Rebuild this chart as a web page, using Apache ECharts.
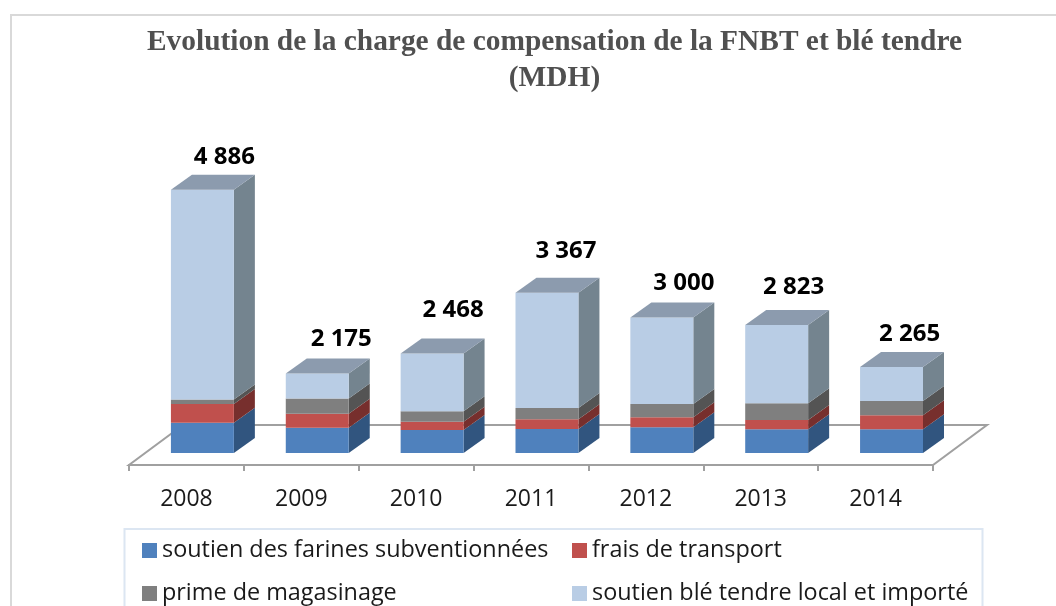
<!DOCTYPE html>
<html><head><meta charset="utf-8">
<style>html,body{margin:0;padding:0;background:#fff}#c{width:1056px;height:606px}</style>
<script src="https://cdn.jsdelivr.net/npm/echarts@6/dist/echarts.min.js"></script>
</head><body><div id="c"></div>
<script>
const categories = ['2008','2009','2010','2011','2012','2013','2014'];
const farines   = [1448,1374,1340,1355,1380,1350,1350];
const transport = [276,207,123,143,148,137,207];
const magasinage= [64,222,154,167,196,247,211];
const bleTendre = [3098,372,851,1702,1276,1157,502];
const totals    = ['4 886','2 175','2 468','3 367','3 000','2 823','2 265'];
const seriesNames = ['soutien des farines subventionnées','frais de transport','prime de magasinage','soutien blé tendre local et importé'];

const stackValues = [farines,transport,magasinage,bleTendre];
const FRONT = ['#4f81bd','#c0504d','#7f7f7f','#b9cde5'];
const SIDE  = ['#31557f','#772f2d','#545454','#74848f'];
const TOP   = '#8c9bae';
const DEPTH_X = 21, DEPTH_Y = 15;
const labelShift = [[2,3],[4,2],[1,-7],[-1,-5],[2,2],[-3,-2],[-2,3]];

function bar3d(k){
  return function(params, api){
    const i = api.value(0);
    const band = api.size([1,0])[0];
    const w = band*0.548, shift = band*0.139;
    let lo = 0;
    for(let s=0;s<k;s++) lo += stackValues[s][i];
    const hi = lo + api.value(1);
    const c = api.coord([i, hi]);
    const yBase = k===0 ? params.coordSys.y+params.coordSys.height : api.coord([i, lo])[1];
    const x0 = c[0]-w/2+shift, x1 = x0+w, yTop = c[1];
    const children = [
      {type:'polygon',shape:{points:[[x1,yTop],[x1+DEPTH_X,yTop-DEPTH_Y],[x1+DEPTH_X,yBase-DEPTH_Y],[x1,yBase]]},style:{fill:SIDE[k]}},
      {type:'rect',shape:{x:x0,y:yTop,width:w,height:yBase-yTop},style:{fill:FRONT[k]}}
    ];
    if(k===3){
      children.push({type:'polygon',shape:{points:[[x0,yTop],[x0+DEPTH_X,yTop-DEPTH_Y],[x1+DEPTH_X,yTop-DEPTH_Y],[x1,yTop]]},style:{fill:TOP}});
      children.push({type:'text',style:{text:totals[i],x:(x0+x1)/2+20+labelShift[i][0],y:yTop-DEPTH_Y-21+labelShift[i][1],
        align:'center',verticalAlign:'middle',fill:'#000',font:'bold 24px "Open Sans"'}});
    }
    return {type:'group',children};
  };
}
function floor(params){
  const r = params.coordSys, b = r.y+r.height, l=r.x, e=r.x+r.width;
  return {type:'polygon',z2:-1,shape:{points:[[l,b+12],[e,b+12],[e+54,b-28],[l+54,b-28]]},
    style:{fill:'#fff',stroke:'#a0a0a0',lineWidth:2}};
}
const legendBase = {orient:'vertical',top:539,padding:0,itemWidth:15,itemHeight:15,itemGap:20,icon:'rect',
  textStyle:{fontFamily:'"Open Sans"',fontSize:23.4,lineHeight:22,color:'#1a1a1a'}};
const chart = echarts.init(document.getElementById('c'),null,{renderer:'canvas'});
chart.setOption({
  animation:false,
  backgroundColor:'#fff',
  title:{text:'Evolution de la charge de compensation de la FNBT et blé tendre\n(MDH)',left:554.5,top:24,padding:0,textAlign:'center',
    textStyle:{fontFamily:'"Liberation Serif"',fontWeight:'bold',fontSize:29.4,lineHeight:36,color:'#505050'}},
  grid:{left:129,top:182,width:804,height:271},
  xAxis:{type:'category',data:categories,offset:12,boundaryGap:true,
    axisLine:{show:true,lineStyle:{color:'#a0a0a0',width:2}},
    axisTick:{show:true,length:6,lineStyle:{color:'#a0a0a0',width:2}},
    axisLabel:{fontFamily:'"Open Sans"',fontSize:23,color:'#1a1a1a',margin:23}},
  yAxis:{type:'value',min:1000,max:5000,show:false,splitLine:{show:false}},
  legend:[
    Object.assign({},legendBase,{data:[seriesNames[0],seriesNames[2]],left:142}),
    Object.assign({},legendBase,{data:[seriesNames[1],seriesNames[3]],left:572})
  ],
  graphic:[
    {type:'rect',silent:true,z:-10,shape:{x:11,y:15,width:1100,height:640},style:{fill:'#fff',stroke:'#d9d9d9',lineWidth:2}},
    {type:'rect',silent:true,z:-9,shape:{x:124.5,y:529,width:858,height:100},style:{fill:'#fff',stroke:'#dce6f2',lineWidth:2}}
  ],
  series:[
    {type:'custom',name:'floor',renderItem:floor,data:[[0,1000]],silent:true,z:1,clip:false,encode:{x:0,y:1}},
    ...seriesNames.map((n,k)=>({
      type:'custom',name:n,renderItem:bar3d(k),z:2+k,clip:false,
      itemStyle:{color:FRONT[k]},encode:{x:0,y:1},
      data:categories.map((c,i)=>[i,stackValues[k][i]])
    }))
  ]
});
</script></body></html>
